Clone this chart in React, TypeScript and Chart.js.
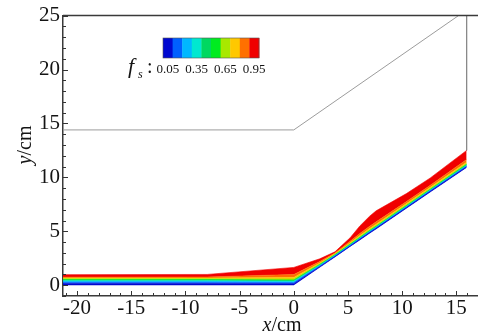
import React, { useEffect, useRef } from 'react';
import { Chart, registerables } from 'chart.js';

Chart.register(...registerables);

// Sample positions along the channel (cm)
const xs = [-21.3, -8, 0, 2.4, 3.8, 5.2, 6.1, 7.0, 7.6, 10.4, 12.6, 15.95];

// Bed / slope surface (cm)
const bedWall = [0, 0, 0, 1.64, 2.6, 3.56, 4.18, 4.8, 5.2, 7.12, 8.63, 10.9];

// Upper boundary of each solid-fraction band f_s (cm)
const fs005 = [0.15, 0.15, 0.14, 1.72, 2.66, 3.63, 4.26, 4.88, 5.28, 7.2, 8.71, 10.98];
const fs015 = [0.27, 0.27, 0.24, 1.77, 2.7, 3.67, 4.3, 4.92, 5.32, 7.24, 8.75, 11.03];
const fs025 = [0.35, 0.35, 0.3, 1.81, 2.73, 3.7, 4.33, 4.95, 5.35, 7.27, 8.78, 11.07];
const fs035 = [0.41, 0.41, 0.36, 1.85, 2.76, 3.73, 4.36, 4.99, 5.39, 7.31, 8.82, 11.11];
const fs045 = [0.47, 0.47, 0.42, 1.89, 2.79, 3.76, 4.4, 5.03, 5.43, 7.35, 8.86, 11.16];
const fs055 = [0.53, 0.53, 0.48, 1.93, 2.82, 3.8, 4.44, 5.07, 5.47, 7.39, 8.9, 11.21];
const fs065 = [0.59, 0.59, 0.58, 1.99, 2.86, 3.86, 4.51, 5.14, 5.54, 7.46, 8.97, 11.28];
const fs075 = [0.66, 0.66, 0.72, 2.07, 2.91, 3.94, 4.61, 5.25, 5.66, 7.57, 9.08, 11.4];
const fs085 = [0.75, 0.76, 1.0, 2.2, 2.98, 4.08, 4.8, 5.46, 5.88, 7.76, 9.27, 11.65];
const fs095 = [0.98, 1.0, 1.65, 2.45, 3.1, 4.4, 5.5, 6.4, 6.9, 8.5, 9.95, 12.5];

const levelColors = [
  '#0008d0', '#0060ff', '#00b8ff', '#00e8d0', '#00d860',
  '#00ec20', '#a8e800', '#ffc800', '#ff7000', '#f00000',
];

// Domain outline: crest line and right side wall
const crestX = [-21.3, 0, 15.2];
const crestY = [14.4, 14.4, 25];
const sideX = [15.95, 15.95];
const sideY = [25, 12.5];

const xTickValues = [-20, -15, -10, -5, 0, 5, 10, 15];
const yTickValues = [0, 5, 10, 15, 20, 25];
const colorbarLabels = ['0.05', '0.35', '0.65', '0.95'];
const colorbarLabelBins = [0, 3, 6, 9];

const SERIF = '"Liberation Serif", "DejaVu Serif", serif';
const INK = '#141414';

const decor = {
  id: 'decor',
  afterDraw(chart: any) {
    const { ctx, chartArea: a, scales } = chart;
    const sx = scales.x;
    const sy = scales.y;
    ctx.save();

    // top frame line
    ctx.strokeStyle = '#3a3a3a';
    ctx.lineWidth = 1.5;
    ctx.beginPath();
    ctx.moveTo(a.left, a.top);
    ctx.lineTo(a.right, a.top);
    ctx.stroke();

    // inward tick marks
    ctx.lineWidth = 1;
    ctx.strokeStyle = '#333';
    ctx.beginPath();
    for (let v = Math.ceil(sx.min); v <= Math.floor(sx.max); v++) {
      const px = Math.round(sx.getPixelForValue(v)) + 0.5;
      const len = v % 5 === 0 ? 5 : 3;
      ctx.moveTo(px, a.bottom);
      ctx.lineTo(px, a.bottom - len);
    }
    for (let v = Math.ceil(sy.min); v <= Math.floor(sy.max); v++) {
      const py = Math.round(sy.getPixelForValue(v)) + 0.5;
      const len = v % 5 === 0 ? 5 : 3;
      ctx.moveTo(a.left, py);
      ctx.lineTo(a.left + len, py);
    }
    ctx.stroke();

    ctx.fillStyle = INK;
    ctx.textBaseline = 'alphabetic';

    // x axis title
    ctx.font = `italic 20px ${SERIF}`;
    const wx = ctx.measureText('x').width;
    ctx.font = `20px ${SERIF}`;
    const wcm = ctx.measureText('/cm').width;
    let tx = 282 - (wx + wcm) / 2;
    ctx.textAlign = 'left';
    ctx.font = `italic 20px ${SERIF}`;
    ctx.fillText('x', tx, 331);
    ctx.font = `20px ${SERIF}`;
    ctx.fillText('/cm', tx + wx, 331);

    // y axis title
    ctx.save();
    ctx.translate(31, 145);
    ctx.rotate(-Math.PI / 2);
    ctx.font = `italic 20px ${SERIF}`;
    const wy = ctx.measureText('y').width;
    tx = -(wy + wcm) / 2;
    ctx.fillText('y', tx, 0);
    ctx.font = `20px ${SERIF}`;
    ctx.fillText('/cm', tx + wy, 0);
    ctx.restore();

    // colour bar
    const cbX = 163;
    const cbY = 38;
    const cbH = 20;
    const binW = 9.6;
    levelColors.forEach((c, i) => {
      ctx.fillStyle = c;
      ctx.fillRect(cbX + i * binW, cbY, binW + 0.4, cbH);
    });
    ctx.strokeStyle = '#555';
    ctx.lineWidth = 0.6;
    ctx.strokeRect(cbX, cbY, binW * levelColors.length, cbH);

    ctx.fillStyle = INK;
    ctx.font = `13px ${SERIF}`;
    ctx.textAlign = 'center';
    colorbarLabels.forEach((t, k) => {
      ctx.fillText(t, cbX + (colorbarLabelBins[k] + 0.5) * binW, 73);
    });

    // f_s: label
    ctx.textAlign = 'left';
    ctx.font = `italic 22px ${SERIF}`;
    ctx.fillText('f', 128, 73);
    ctx.font = `italic 12px ${SERIF}`;
    ctx.fillText('s', 138, 78);
    ctx.font = `20px ${SERIF}`;
    ctx.fillText(':', 147, 73);

    ctx.restore();
  },
};

export default function App() {
  const canvasRef = useRef<HTMLCanvasElement | null>(null);

  useEffect(() => {
    const canvas = canvasRef.current;
    if (!canvas) return;
    let chart: Chart | null = null;
    let cancelled = false;

    const layers = [fs005, fs015, fs025, fs035, fs045, fs055, fs065, fs075, fs085, fs095];
    const toPts = (xv: number[], yv: number[]) => xv.map((x, i) => ({ x, y: yv[i] }));

    const build = () => {
      if (cancelled) return;
      const datasets: any[] = [
        {
          data: toPts(xs, bedWall),
          borderWidth: 0,
          pointRadius: 0,
          fill: false,
        },
        ...layers.map((arr, k) => ({
          data: toPts(xs, arr),
          backgroundColor: levelColors[k],
          borderColor: levelColors[k],
          borderWidth: 0.6,
          pointRadius: 0,
          fill: '-1',
        })),
        {
          data: toPts(crestX, crestY),
          borderColor: '#9c9c9c',
          borderWidth: 1,
          pointRadius: 0,
          fill: false,
        },
        {
          data: toPts(sideX, sideY),
          borderColor: '#8a8a8a',
          borderWidth: 1,
          pointRadius: 0,
          fill: false,
        },
      ];

      chart = new Chart(canvas, {
        type: 'line',
        data: { datasets },
        options: {
          animation: false,
          responsive: false,
          maintainAspectRatio: false,
          layout: { padding: { top: 15, right: 0, left: 0, bottom: 0 } },
          elements: { line: { tension: 0 } },
          plugins: {
            legend: { display: false },
            tooltip: { enabled: false },
          },
          scales: {
            x: {
              type: 'linear',
              min: -21.3,
              max: 17,
              afterBuildTicks: (s: any) => {
                s.ticks = xTickValues.map((v) => ({ value: v }));
              },
              afterFit: (s: any) => {
                s.height = 37;
              },
              grid: { display: false, drawTicks: false },
              border: { display: true, color: '#3a3a3a', width: 1.5 },
              ticks: {
                padding: 0,
                color: INK,
                maxRotation: 0,
                autoSkip: false,
                font: { family: SERIF, size: 21, lineHeight: 1.2 },
              },
            },
            y: {
              type: 'linear',
              min: -1,
              max: 25,
              afterBuildTicks: (s: any) => {
                s.ticks = yTickValues.map((v) => ({ value: v }));
              },
              afterFit: (s: any) => {
                s.width = 63;
              },
              grid: { display: false, drawTicks: false },
              border: { display: true, color: '#3a3a3a', width: 1.5 },
              ticks: {
                padding: 3,
                color: INK,
                autoSkip: false,
                font: { family: SERIF, size: 21, lineHeight: 1.2 },
              },
            },
          },
        },
        plugins: [decor],
      });
    };

    const fontsApi: any = (document as any).fonts;
    if (fontsApi && fontsApi.load) {
      Promise.all([
        fontsApi.load('21px "Liberation Serif"'),
        fontsApi.load('italic 21px "Liberation Serif"'),
      ]).then(build, build);
    } else {
      build();
    }

    return () => {
      cancelled = true;
      if (chart) chart.destroy();
    };
  }, []);

  return (
    <div style={{ position: 'absolute', left: 0, top: 0, width: 478, height: 333, background: '#fff' }}>
      <canvas ref={canvasRef} width={478} height={333} style={{ display: 'block' }} />
    </div>
  );
}
